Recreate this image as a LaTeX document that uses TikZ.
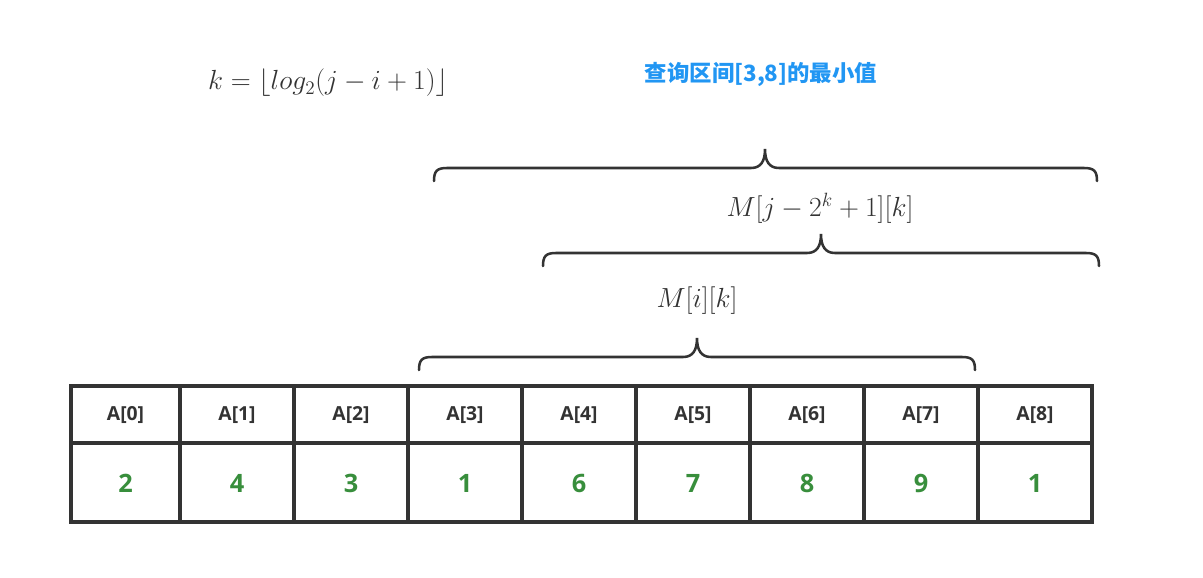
\documentclass[tikz,border=0pt]{standalone}
\usepackage{amsmath}
\usepackage{fontspec}
\setsansfont{Open Sans}
\newfontfamily\cjkfont{Noto Sans CJK SC}
\usepackage{xcolor}
\usepackage{tikz}
\definecolor{tinta}{HTML}{333333}
\definecolor{verde}{HTML}{388E3C}
\definecolor{azul}{HTML}{2196F3}
\tikzset{
  celltxt/.style={font=\sffamily\bfseries\fontsize{14.5}{17}\selectfont, text=tinta},
  cellval/.style={font=\sffamily\bfseries\fontsize{19}{22}\selectfont, text=verde},
  mathtxt/.style={font=\fontsize{22}{26}\selectfont, text=tinta},
}

\begin{document}
\begin{tikzpicture}[x=0.75pt, y=-0.75pt]
  \useasboundingbox (0,0) rectangle (1203,578);
  % title and formula
  \node[font=\cjkfont\bfseries\fontsize{16.8}{20}\selectfont, text=azul] (title) at (761,74) {查询区间[3,8]的最小值};
  \node[mathtxt] (kform) at (328,83) {$k=\lfloor log_2(j-i+1)\rfloor$};
  % braces
  \foreach \xl/\xr/\xm/\yb in {434/1097/765/168, 543/1099/821/253, 419/975/697/357}{
    \draw[tinta, line width=1.9pt, line cap=round]
      (\xl,\yb+13) .. controls (\xl,\yb+3) and (\xl+3,\yb) .. (\xl+13,\yb)
      -- (\xm-14,\yb) .. controls (\xm-4,\yb) and (\xm,\yb-7) .. (\xm,\yb-19)
      .. controls (\xm,\yb-7) and (\xm+4,\yb) .. (\xm+14,\yb)
      -- (\xr-13,\yb) .. controls (\xr-3,\yb) and (\xr,\yb+3) .. (\xr,\yb+13);
  }
  \node[mathtxt] (Mjk) at (820,208) {$M[j-2^k+1][k]$};
  \node[mathtxt] (Mik) at (697,301) {$M[i][k]$};
  % array
  \draw[tinta, line width=2.3pt] (71,386) rectangle (1092,522);
  \draw[tinta, line width=2.3pt] (71,443) -- (1092,443);
  \foreach \x in {180,294,408,522,636,750,864,978}{
    \draw[tinta, line width=2.3pt] (\x,386) -- (\x,522);
  }
  \foreach \i/\xl/\xr/\v in {0/71/180/2, 1/180/294/4, 2/294/408/3, 3/408/522/1, 4/522/636/6,
                             5/636/750/7, 6/750/864/8, 7/864/978/9, 8/978/1092/1}{
    \node[celltxt] (lbl\i) at ({(\xl+\xr)/2},415) {A[\i]};
    \node[cellval] (val\i) at ({(\xl+\xr)/2},483) {\v};
  }
\end{tikzpicture}
\end{document}
